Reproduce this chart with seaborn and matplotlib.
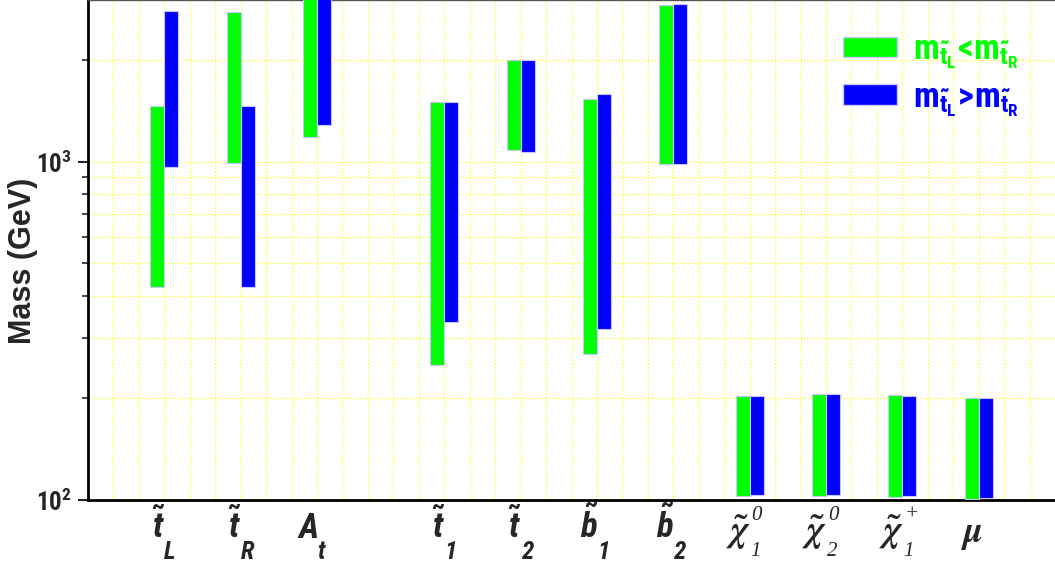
import numpy as np
import pandas as pd
import matplotlib
matplotlib.use("Agg")
import matplotlib.pyplot as plt
import seaborn as sns
from matplotlib import font_manager as fm
from matplotlib.patches import Patch
from matplotlib.ticker import FixedLocator, NullFormatter, MultipleLocator
from matplotlib.transforms import blended_transform_factory, offset_copy

sns.set_theme(style="white")

# fuente estrecha si existe (el original tiene letras altas y estrechas)
installed = {f.name for f in fm.fontManager.ttflist}
SANS = 'Liberation Sans'
for cand in ['Liberation Sans Narrow', 'Roboto Condensed', 'Open Sans Condensed', 'Noto Sans Condensed']:
    if cand in installed:
        SANS = cand
        break
NARROW = SANS != 'Liberation Sans'

plt.rcParams['font.family'] = [SANS, 'Liberation Sans', 'DejaVu Sans']
plt.rcParams['font.weight'] = 'bold'
plt.rcParams['mathtext.fontset'] = 'custom'
plt.rcParams['mathtext.rm'] = SANS + ':bold'
plt.rcParams['mathtext.it'] = SANS + ':bold:italic'
plt.rcParams['mathtext.bf'] = SANS + ':bold'

# datos (GeV)
main_sym = [r'$\tilde{\mathit{t}}$', r'$\tilde{\mathit{t}}$', r'$\mathit{A}$',
            r'$\tilde{\mathit{t}}$', r'$\tilde{\mathit{t}}$', r'$\tilde{\mathit{b}}$', r'$\tilde{\mathit{b}}$',
            r'$\tilde{\chi}$', r'$\tilde{\chi}$', r'$\tilde{\chi}$', r'$\mu$']
sub_sym = ['L', 'R', 't', '1', '2', '1', '2', '1', '2', '1', '']
sup_sym = ['', '', '', '', '', '', '', '0', '0', '+', '']
green_lo = [425, 990, 1180, 250, 1085, 270, 986, 102.7, 103, 102, 101]
green_hi = [1460, 2760, 3300, 1500, 2000, 1525, 2890, 203, 205, 204, 200]
blue_lo = [966, 425, 1280, 335, 1068, 320, 980, 103.4, 103.4, 102.5, 101.4]
blue_hi = [2790, 1460, 3300, 1500, 2000, 1580, 2925, 203, 205, 203, 200]

# posiciones en el eje (huecos entre grupos)
slots = [3, 6, 9, 14, 17, 20, 23, 26, 29, 32, 35]

df = pd.DataFrame({'slot': slots, 'main': main_sym, 'sub': sub_sym, 'sup': sup_sym,
                   'g_lo': green_lo, 'g_hi': green_hi,
                   'b_lo': blue_lo, 'b_hi': blue_hi})

GREEN = '#00ff00'
BLUE = '#0000ff'
EDGE = '#c8c8ff'
w = 0.55

fig = plt.figure(figsize=(10.55, 5.69), dpi=100)
ax = fig.add_axes([88 / 1055, 69 / 569, 967 / 1055, 500 / 569])

ax.bar(df['slot'] - w / 2, df['g_hi'] - df['g_lo'], bottom=df['g_lo'], width=w,
       color=GREEN, edgecolor=EDGE, linewidth=0.8, zorder=3)
ax.bar(df['slot'] + w / 2, df['b_hi'] - df['b_lo'], bottom=df['b_lo'], width=w,
       color=BLUE, edgecolor=EDGE, linewidth=0.8, zorder=3)

ax.set_yscale('log')
ax.set_ylim(100, 3000)
ax.set_xlim(0, 38)

# rejilla amarilla punteada
ax.xaxis.set_minor_locator(MultipleLocator(1))
ax.yaxis.set_major_locator(FixedLocator([100, 1000]))
ax.yaxis.set_minor_locator(FixedLocator([200, 300, 400, 500, 600, 700, 800, 900, 2000]))
ax.yaxis.set_minor_formatter(NullFormatter())
ax.grid(which='both', color='#ffff00', linestyle=':', linewidth=0.9, zorder=0)

ax.set_yticks([100, 1000])
ax.set_yticklabels([r'$10^2$', r'$10^3$'], fontsize=18 if NARROW else 16)
ax.tick_params(axis='y', which='major', direction='out', length=7, width=1.5, left=True, pad=5)
ax.tick_params(axis='y', which='minor', direction='out', length=4, width=1.2, left=True)

# etiquetas del eje x: símbolo + subíndice bajo (como en el original)
ax.set_xticks(slots)
ax.set_xticklabels([''] * len(slots))
ax.tick_params(axis='x', which='both', length=0)
tx = blended_transform_factory(ax.transData, ax.transAxes)
main_fs = 25 if NARROW else 23
sub_fs = 18 if NARROW else 16
for _, r in df.iterrows():
    greek = r['sup'] != '' or r['sub'] == ''
    if greek:
        ax.text(r['slot'], 0, r['main'], fontsize=26, ha='right', va='baseline', math_fontfamily='stix',
                transform=offset_copy(tx, fig=fig, x=2 if r['sub'] else 5, y=-42, units='dots'))
        if r['sub']:
            ax.text(r['slot'], 0, r['sub'], fontsize=15, ha='left', va='baseline', family='Liberation Serif',
                    style='italic', weight='normal',
                    transform=offset_copy(tx, fig=fig, x=1, y=-56, units='dots'))
            ax.text(r['slot'], 0, r['sup'], fontsize=15, ha='left', va='baseline', family='Liberation Serif',
                    style='italic', weight='normal',
                    transform=offset_copy(tx, fig=fig, x=2, y=-20, units='dots'))
    else:
        ax.text(r['slot'], 0, r['main'], fontsize=main_fs, ha='right', va='baseline',
                transform=offset_copy(tx, fig=fig, x=1, y=-38, units='dots'))
        ax.text(r['slot'], 0, r['sub'], fontsize=sub_fs, ha='left', va='baseline', style='italic',
                transform=offset_copy(tx, fig=fig, x=0, y=-59, units='dots'))

ax.set_ylabel('Mass (GeV)', fontsize=22, fontweight='bold', family='Liberation Sans', va='center')
ax.yaxis.set_label_coords(-65 / 967, 0.478)

for side in ['left', 'bottom']:
    ax.spines[side].set_color('black')
    ax.spines[side].set_linewidth(2)
ax.spines['top'].set_color('#555555')
ax.spines['top'].set_linewidth(1)
ax.spines['right'].set_visible(False)

handles = [Patch(facecolor=GREEN, edgecolor=EDGE), Patch(facecolor=BLUE, edgecolor=EDGE)]
labels = [r'$\mathrm{m}_{\tilde{\mathrm{t}}_{\mathrm{L}}}\!<\!\mathrm{m}_{\tilde{\mathrm{t}}_{\mathrm{R}}}$',
          r'$\mathrm{m}_{\tilde{\mathrm{t}}_{\mathrm{L}}}\!>\!\mathrm{m}_{\tilde{\mathrm{t}}_{\mathrm{R}}}$']
leg_fs = 25 if NARROW else 21
ax.legend(handles, labels, loc='upper left', bbox_to_anchor=(0.781, 0.933), frameon=False,
          fontsize=leg_fs, labelcolor=[GREEN, BLUE], handlelength=54 / (leg_fs * 1.389),
          handleheight=18 / (leg_fs * 1.389), handletextpad=0.45, labelspacing=0.28,
          borderaxespad=0, borderpad=0)

fig.savefig('out.png', dpi=100)
